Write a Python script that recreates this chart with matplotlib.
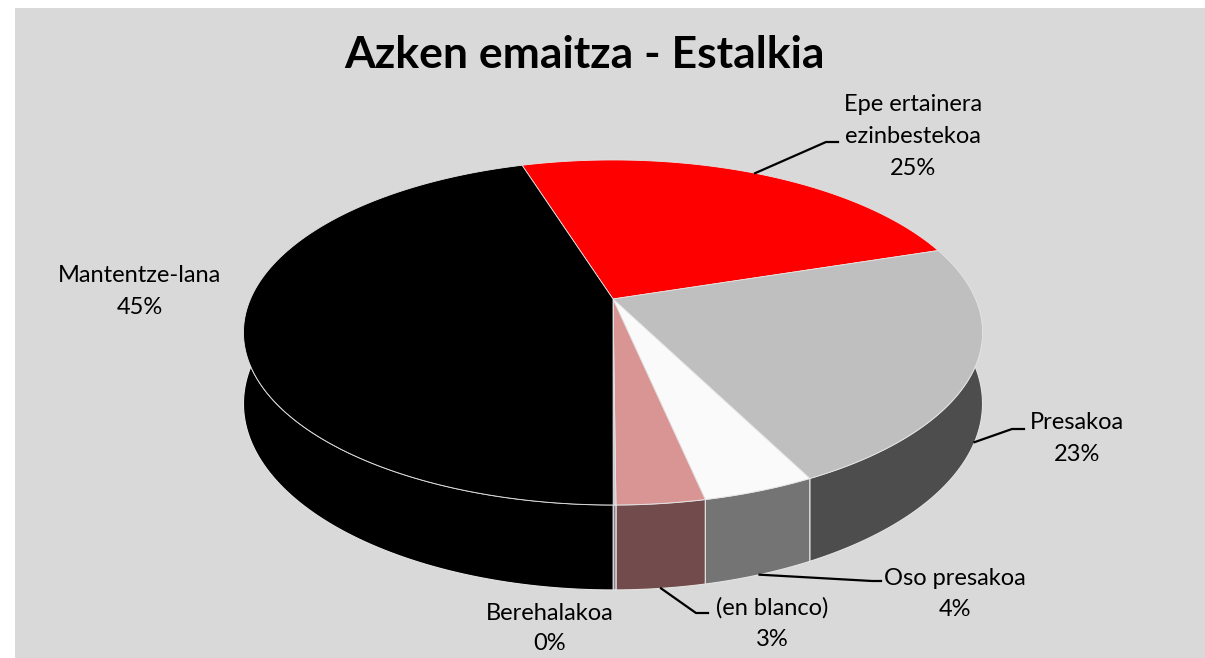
import numpy as np
import matplotlib.pyplot as plt
from matplotlib.patches import Polygon, Rectangle

# data, in clockwise order starting from the black/red boundary
labels = ['Epe ertainera\nezinbestekoa', 'Presakoa', 'Oso presakoa',
          '(en blanco)', 'Berehalakoa', 'Mantentze-lana']
values = [24.8, 22.6, 4.1, 3.2, 0.1, 45.2]
top_colors = ['#ff0000', '#bfbfbf', '#fafafa', '#d99594', '#d0c8d8', '#000000']
side_colors = ['#a00000', '#4d4d4d', '#747474', '#724c4c', '#8a8090', '#000000']
title = 'Azken emaitza - Estalkia'

# label layout: centre x, first baseline, line gap, leader (attach where, elbow points)
label_pos = [
    (913, 111, 32, 'top', [(826, 142), (838, 142)]),
    (1077, 429, 32, 'bottom', [(1012, 429), (1024, 429)]),
    (955, 585, 31, 'bottom', [(872, 581), (881, 581)]),
    (772, 615, 31, 'bottom', [(696, 613), (708, 613)]),
    (550, 620, 30, None, None),
    (140, 282, 32, None, None),
]

font = 'Lato'
W, Hpx = 1205, 658
fig = plt.figure(figsize=(W / 100, Hpx / 100), dpi=100, facecolor='white')
ax = fig.add_axes([0, 0, 1, 1])
ax.set_xlim(0, W)
ax.set_ylim(Hpx, 0)
ax.axis('off')
ax.add_patch(Rectangle((15, 8), W - 15, Hpx - 8, facecolor='#d9d9d9', edgecolor='none', zorder=0))

# perspective pie geometry (pixels)
cx, cy = 613, 299
A, B, k = 362.5, 166, 0.194
depth = 68.5
start = -17.3


def proj(a_deg, down=0.0):
    a = np.radians(a_deg)
    u, v = np.sin(a), -np.cos(a)
    d = 1 - k * v
    return cx + A * u / d, cy + (B * v + down) / d


vals = np.array(values)
angles = start + np.concatenate([[0], np.cumsum(vals)]) / vals.sum() * 360
edge = '#e4e4e4'

# side walls (only the front half is visible)
for i in range(len(vals)):
    a0, a1 = max(angles[i], 90), min(angles[i + 1], 270)
    if a1 <= a0:
        continue
    t = np.linspace(a0, a1, 80)
    tx, ty = proj(t)
    bx, by = proj(t, depth)
    pts = np.column_stack([np.concatenate([tx, bx[::-1]]), np.concatenate([ty, by[::-1]])])
    ax.add_patch(Polygon(pts, closed=True, facecolor=side_colors[i], edgecolor=edge,
                         linewidth=0.8, zorder=2))

# top face
for i in range(len(vals)):
    t = np.linspace(angles[i], angles[i + 1], max(int((angles[i + 1] - angles[i]) * 2), 2))
    tx, ty = proj(t)
    pts = np.column_stack([np.concatenate([[cx], tx]), np.concatenate([[cy], ty])])
    ax.add_patch(Polygon(pts, closed=True, facecolor=top_colors[i], edgecolor=edge,
                         linewidth=0.6, zorder=3))

# labels and leader lines
for i, (lx, ly, gap, where, elbow) in enumerate(label_pos):
    lines = labels[i].split('\n') + ['%d%%' % round(values[i])]
    for j, s in enumerate(lines):
        ax.text(lx, ly + j * gap, s, ha='center', va='baseline', fontsize=17,
                family=font, color='#000000', zorder=5)
    if where is not None:
        mid = (angles[i] + angles[i + 1]) / 2
        px, py = proj(mid, 0 if where == 'top' else depth)
        xs = [px] + [p[0] for p in elbow]
        ys = [py] + [p[1] for p in elbow]
        ax.plot(xs, ys, color='#000000', linewidth=1.6, zorder=4)

ax.text(584, 68, title, ha='center', va='baseline', fontsize=32, fontweight='bold',
        family=font, color='#000000', zorder=5)

fig.savefig('out.png', dpi=100, facecolor='white')
